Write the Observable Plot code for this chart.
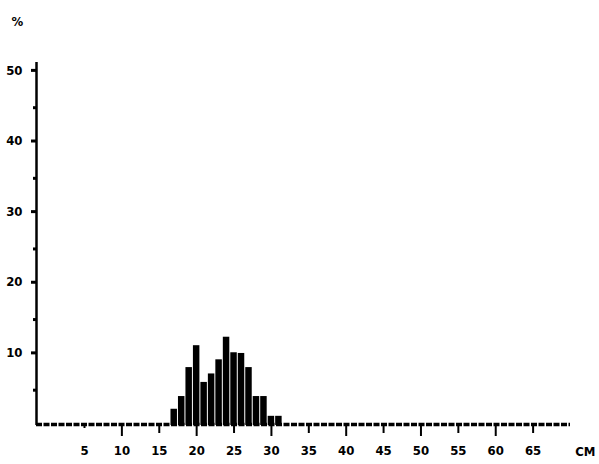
<!DOCTYPE html>
<html>
<head>
<meta charset="utf-8">
<script src="https://cdn.jsdelivr.net/npm/d3@7"></script>
<script src="https://cdn.jsdelivr.net/npm/@observablehq/plot@0.6"></script>
<style>
  html, body { margin: 0; padding: 0; background: #fff; }
  svg text { font-family: "DejaVu Sans Condensed", "DejaVu Sans", sans-serif; font-stretch: condensed; }
</style>
</head>
<body>
<div id="chart"></div>
<script>
// Length classes (cm) and percentage of fish in each class
const lengths  = [17, 18, 19, 20, 21, 22, 23, 24, 25, 26, 27, 28, 29, 30, 31];
const percents = [2.3, 4.1, 8.2, 11.3, 6.1, 7.3, 9.3, 12.5, 10.3, 10.2, 8.2, 4.1, 4.1, 1.3, 1.3];

const xTicks = [5, 10, 15, 20, 25, 30, 35, 40, 45, 50, 55, 60, 65];
const xTickLabels = ["5", "10", "15", "20", "25", "30", "35", "40", "45", "50", "55", "60", "65"];
const yTicks = [10, 20, 30, 40, 50];
const yMinorTicks = [5, 15, 25, 35, 45];
const yLabel = "%";
const xLabel = "CM";

const xMin = -1.42, xMax = 70, yMax = 51.4;
const data = lengths.map((l, i) => ({length: l, pct: percents[i]}));

const font = {fontSize: 13, fontWeight: "bold", fill: "#000"};

const chart = Plot.plot({
  width: 599,
  height: 464,
  marginLeft: 36,
  marginRight: 29,
  marginTop: 62,
  marginBottom: 39,
  style: {background: "#fff", color: "#000"},
  x: {domain: [xMin, xMax], label: null},
  y: {domain: [0, yMax], label: null},
  marks: [
    // bars
    Plot.rectY(data, {x1: d => d.length - 0.5, x2: d => d.length + 0.5, y: "pct", fill: "#000", insetLeft: 0.5, insetRight: 0.5}),
    // dashed baseline of empty classes
    Plot.ruleY([0], {stroke: "#000", strokeWidth: 3.5, strokeDasharray: "6,1.5", dy: -1}),
    // y axis line
    Plot.ruleX([xMin], {y1: 0, y2: yMax, stroke: "#000", strokeWidth: 2.5}),
    // y axis ticks and labels
    Plot.axisY({ticks: yTicks, tickSize: 5, tickPadding: 9, strokeWidth: 3, tickFormat: d => String(d), label: null, ...font, dy: -2}),
    Plot.axisY({ticks: yMinorTicks, tickSize: 3, strokeWidth: 3, text: null, label: null}),
    // x axis ticks
    Plot.axisX({ticks: xTicks.filter(d => d % 10 === 0), tickSize: 11, strokeWidth: 2, text: null, label: null}),
    Plot.axisX({ticks: xTicks.filter(d => d % 10 !== 0 && d > 5), tickSize: 8, strokeWidth: 2, text: null, label: null}),
    Plot.axisX({ticks: [5], tickSize: 3, strokeWidth: 2, text: null, label: null}),
    Plot.axisX({ticks: xTicks, tickSize: 0, tickPadding: 20, tickFormat: d => xTickLabels[xTicks.indexOf(d)], label: null, ...font}),
    // axis titles
    Plot.text([yLabel], {text: d => d, frameAnchor: "top-left", dx: -25, dy: -46, ...font}),
    Plot.text([xLabel], {text: d => d, frameAnchor: "bottom-right", dx: 25, dy: 30, ...font})
  ]
});
document.getElementById("chart").appendChild(chart);
</script>
</body>
</html>
